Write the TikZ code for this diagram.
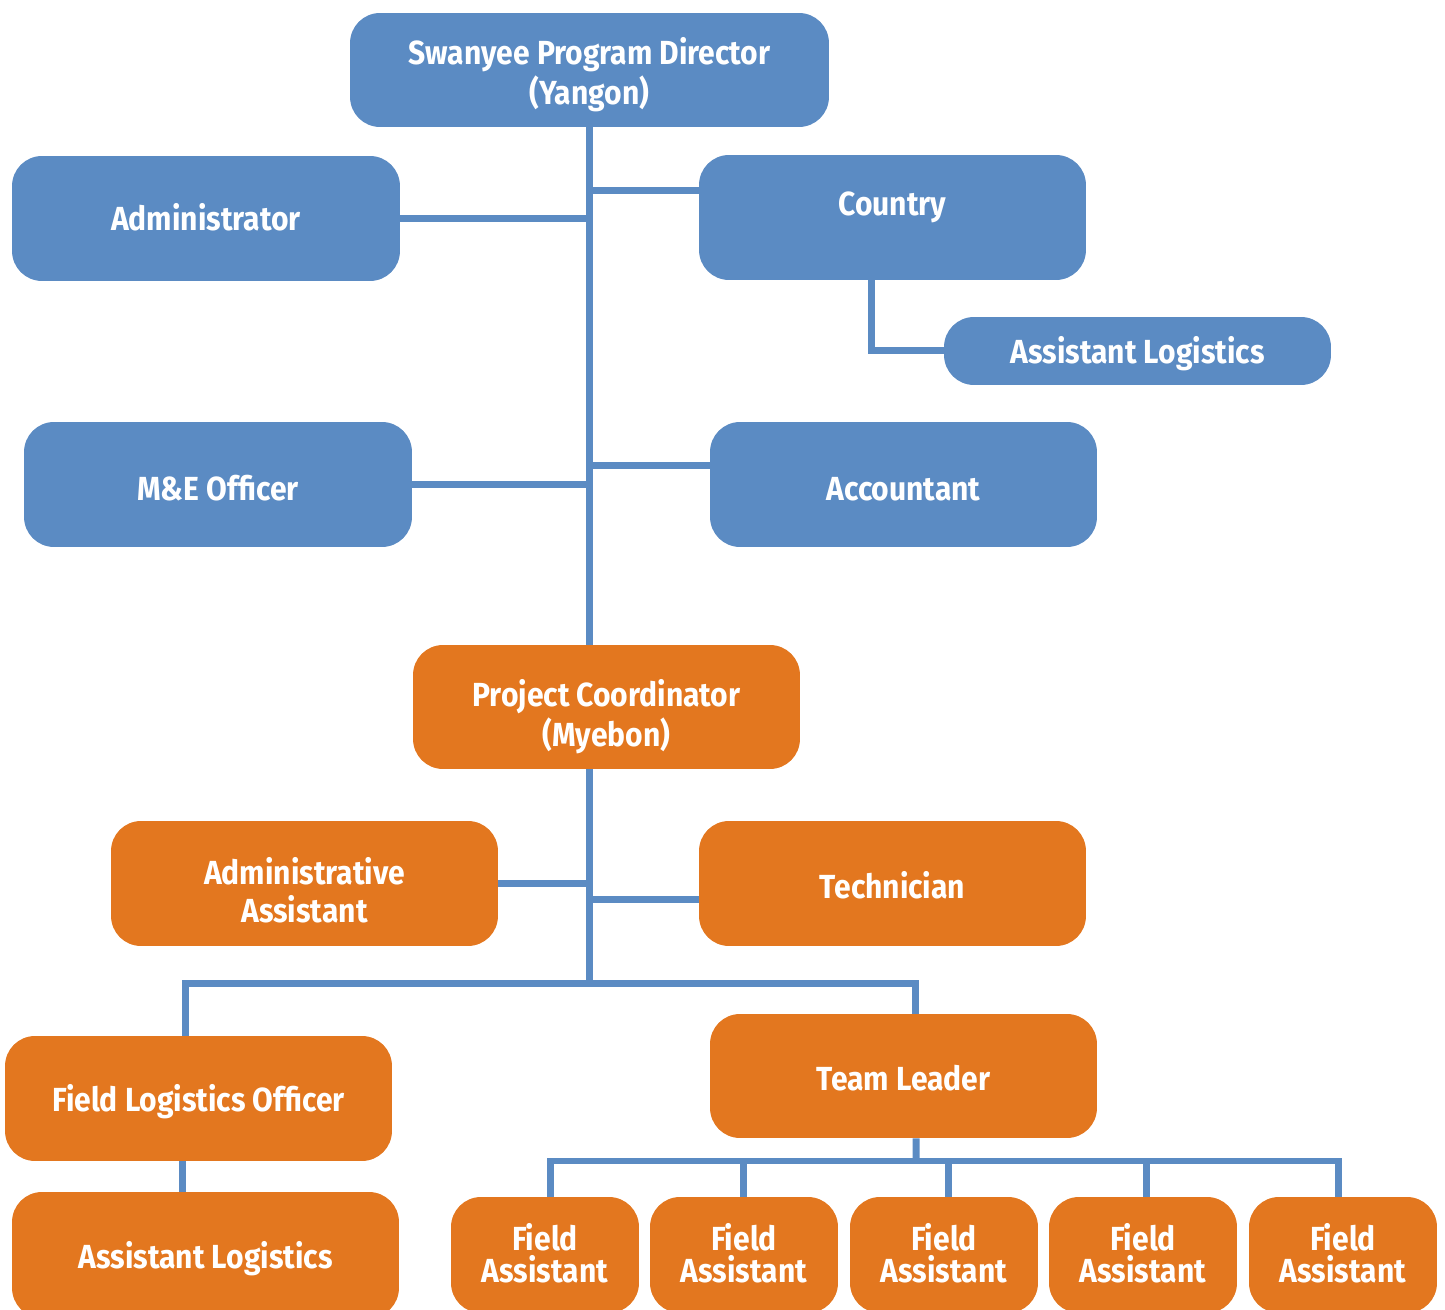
\documentclass[tikz,border=0pt]{standalone}
\usepackage{fontspec}
\setmainfont{Fira Sans}[BoldFeatures={FakeStretch=0.9}]
\usepackage{tikz}
\usetikzlibrary{calc,positioning}
\definecolor{orgblue}{RGB}{91,139,195}
\definecolor{orgorange}{RGB}{227,119,31}
\newcommand\lbl[2][22pt]{\begin{tabular}{@{}c@{}}\rule{0pt}{#1}#2\end{tabular}}
\tikzset{
  unit/.style={rounded corners=0.6cm, text=white, align=center, inner sep=0pt,
    font=\fontsize{19}{21.6}\selectfont\bfseries},
  bluebox/.style={unit, fill=orgblue},
  orangebox/.style={unit, fill=orgorange},
  link/.style={draw=orgblue, line width=0.14cm}
}
\begin{document}
\begin{tikzpicture}[x=0.02cm, y=-0.02cm]
			%%%%% START %%%%%
			\useasboundingbox (0, 0) rectangle (1445, 1310);
			\clip (0, 0) rectangle (1445, 1310);
			
			% Yangon office
			\node[bluebox, minimum width=9.58cm, minimum height=2.28cm] (dir) at (589.5, 70) {\lbl[22.5pt]{Swanyee Program Director\\(Yangon)}};
			\node[bluebox, minimum width=7.76cm, minimum height=2.5cm] (adm) at (206, 218.5) {\lbl[20.5pt]{Administrator}};
			\node[bluebox, minimum width=7.74cm, minimum height=2.5cm] (cty) at (892.5, 217.5) {};
			\node[unit] (ctytxt) at (892.5, 201) {\lbl[23pt]{Country}};
			\node[bluebox, minimum width=7.74cm, minimum height=1.36cm] (alb) at (1137.5, 351) {\lbl[20.5pt]{Assistant Logistics}};
			\node[bluebox, minimum width=7.76cm, minimum height=2.5cm] (mne) at (218, 484.5) {\lbl[24.5pt]{M\&E Officer}};
			\node[bluebox, minimum width=7.74cm, minimum height=2.5cm] (acc) at (903.5, 484.5) {\lbl[24.5pt]{Accountant}};
			
			% Myebon office
			\node[orangebox, minimum width=7.74cm, minimum height=2.48cm] (pc) at (606.5, 707) {\lbl[29pt]{Project Coordinator\\(Myebon)}};
			\node[orangebox, minimum width=7.74cm, minimum height=2.5cm] (aas) at (304.5, 883.5) {\lbl[29pt]{Administrative\\Assistant}};
			\node[orangebox, minimum width=7.74cm, minimum height=2.5cm] (tec) at (892.5, 883.5) {\lbl[23.5pt]{Technician}};
			\node[orangebox, minimum width=7.74cm, minimum height=2.5cm] (flo) at (198.5, 1098.5) {\lbl[21.5pt]{Field Logistics Officer}};
			\node[orangebox, minimum width=7.74cm, minimum height=2.52cm] (alo) at (205.5, 1255) {\lbl[21.5pt]{Assistant Logistics}};
			\node[orangebox, minimum width=7.74cm, minimum height=2.48cm] (tl) at (903.5, 1076) {\lbl[23.5pt]{Team Leader}};
			\foreach \i/\x in {1/545, 2/744, 3/944, 4/1143, 5/1343}
			  \node[orangebox, minimum width=3.76cm, minimum height=2.32cm] (fa\i) at (\x, 1255) {\lbl[19.7pt]{Field\\[-3.4pt]Assistant}};
			
			% connectors
			\coordinate (trunk) at (589, 984);
			\draw[link] (dir.south -| trunk) -- (pc.north -| trunk);
			\draw[link] (adm.east) -- (adm.east -| trunk);
			\draw[link] ($(cty.west)+(0,-26.5)$) -- ($(cty.west -| trunk)+(0,-26.5)$);
			\draw[link] (mne.east) -- (mne.east -| trunk);
			\draw[link] ($(acc.west)+(0,-18.5)$) -- ($(acc.west -| trunk)+(0,-18.5)$);
			\draw[link] ($(cty.south)+(-21.5,0)$) |- (alb.west);
			
			\draw[link] (pc.south -| trunk) -- (trunk);
			\draw[link] (aas.east) -- (aas.east -| trunk);
			\draw[link] ($(tec.west)+(0,16.5)$) -- ($(tec.west -| trunk)+(0,16.5)$);
			\draw[link] ($(flo.north)+(-13.5,0)$) |- (trunk) -| ($(tl.north)+(11.5,0)$);
			\draw[link] ($(flo.south)+(-16.5,0)$) -- ($(alo.north)+(-23.5,0)$);
			
			\coordinate (fabus) at (916, 1161);
			\draw[link] ($(tl.south)+(12.5,0)$) -- (fabus);
			\draw[link] ($(fa1.north)+(5,0)$) |- (fabus) -| ($(fa5.north)+(-5,0)$);
			\foreach \i/\d in {2/-1, 3/4, 4/3}
			  \draw[link] ($(fa\i.north)+(\d,0)$) -- ($(fa\i.north |- fabus)+(\d,0)$);
			%%%%% END %%%%%
\end{tikzpicture}
\end{document}
